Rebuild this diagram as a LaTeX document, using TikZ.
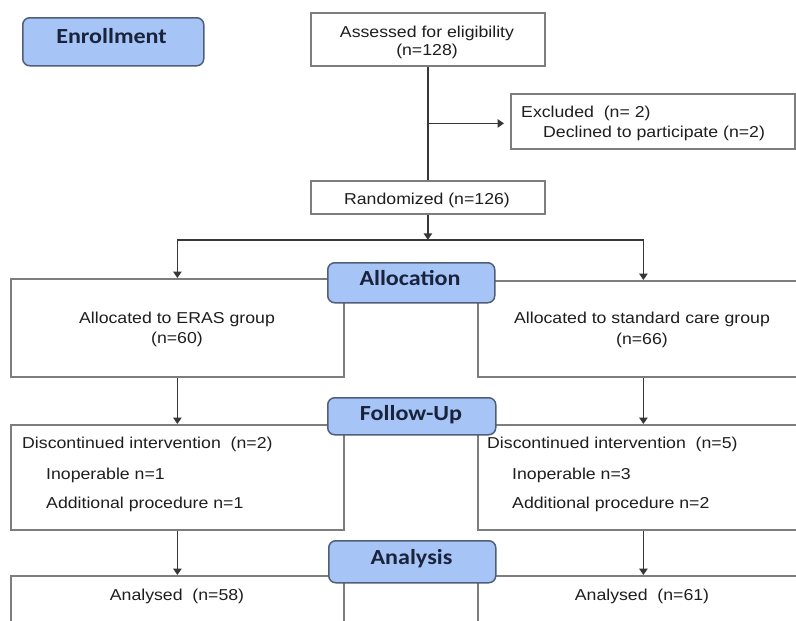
\documentclass[tikz,border=0pt]{standalone}
\usepackage{fontspec}
\setmainfont{Liberation Sans}[FakeStretch=1.12]
\newfontfamily\phasefont{Carlito}[FakeStretch=1.12]
\usetikzlibrary{arrows.meta,calc}
\definecolor{phasefill}{RGB}{166,196,245}
\definecolor{phaseline}{RGB}{80,95,120}
\definecolor{boxline}{RGB}{125,125,125}
\definecolor{connline}{RGB}{55,55,55}
\definecolor{bodytext}{RGB}{30,30,30}
\definecolor{phasetext}{RGB}{25,35,60}
\begin{document}
\begin{tikzpicture}[x=1pt,y=-1pt,
  box/.style={draw=boxline, line width=1.8pt, fill=white, rectangle, inner sep=0pt, anchor=north west},
  phase/.style={draw=phaseline, line width=1.5pt, fill=phasefill, rounded corners=7pt, rectangle, inner sep=0pt, anchor=north west},
  phasetxt/.style={font=\phasefont\bfseries\fontsize{21.5}{24}\selectfont, text=phasetext, anchor=base, inner sep=0pt},
  txt/.style={font=\fontsize{15.8}{18}\selectfont, text=bodytext, inner sep=0pt, anchor=base},
  ltxt/.style={txt, anchor=base west},
  conn/.style={draw=connline, line width=1.4pt},
  arr/.style={conn, -{Triangle[length=6.5pt,width=8.5pt]}},
]
\useasboundingbox (0,0) rectangle (796,621);
\clip (0,0) rectangle (796,621);
\fill[white] (0,0) rectangle (796,621);

% boxes
\node[box, minimum width=234, minimum height=53] (assess) at (310,12) {};
\node[box, minimum width=284, minimum height=55] (excl) at (510,93) {};
\node[box, minimum width=234, minimum height=33] (rand) at (310,180) {};
\node[box, minimum width=333, minimum height=98] (allocL) at (10,278) {};
\node[box, minimum width=331, minimum height=96] (allocR) at (477,280) {};
\node[box, minimum width=333, minimum height=105] (followL) at (10,424) {};
\node[box, minimum width=331, minimum height=105] (followR) at (477,424) {};
\node[box, minimum width=333, minimum height=70] (anaL) at (10,575) {};
\node[box, minimum width=331, minimum height=70] (anaR) at (477,575) {};

% texts
\node[txt] (t1) at (427,37) {Assessed for eligibility};
\node[txt] (t2) at (427,55) {(n=128)};
\node[ltxt] (t3) at (521,117) {Excluded\ \ (n= 2)};
\node[ltxt] (t4) at (543,137) {Declined to participate (n=2)};
\node[txt] (t5) at (427,204) {Randomized (n=126)};
\node[txt] (t6) at (177,323) {Allocated to ERAS group};
\node[txt] (t7) at (177,343) {(n=60)};
\node[txt] (t8) at (642,323) {Allocated to standard care group};
\node[txt] (t9) at (642,344) {(n=66)};
\node[ltxt] (t10) at (22,448) {Discontinued intervention\ \ (n=2)};
\node[ltxt] (t11) at (46,479) {Inoperable n=1};
\node[ltxt] (t12) at (46,508) {Additional procedure n=1};
\node[ltxt] (t13) at (487,448) {Discontinued intervention\ \ (n=5)};
\node[ltxt] (t14) at (512,479) {Inoperable n=3};
\node[ltxt] (t15) at (512,508) {Additional procedure n=2};
\node[txt] (t16) at (177,600) {Analysed\ \ (n=58)};
\node[txt] (t17) at (642,600) {Analysed\ \ (n=61)};

% connectors
\coordinate (br) at ($(assess.south)!0.5!(rand.north)$);
\coordinate (split) at ($(rand.south)+(0,25)$);
\draw[conn] (assess.south) -- (rand.north);
\draw[arr, shorten >=6pt] (br) -- (br -| excl.west);
\draw[arr] (rand.south) -- (split);
\draw[arr] (split) -| (allocL.north);
\draw[arr] (split) -| (allocR.north);
\draw[arr] (allocL.south) -- (followL.north);
\draw[arr] (allocR.south) -- (followR.north);
\draw[arr] (followL.south) -- (anaL.north);
\draw[arr] (followR.south) -- (anaR.north);

% phase labels
\node[phase, minimum width=181, minimum height=48] (enroll) at (22,17) {};
\node[phase, minimum width=167, minimum height=40] (alloc) at (327,262) {};
\node[phase, minimum width=168, minimum height=37] (follow) at (327,397) {};
\node[phase, minimum width=167, minimum height=42] (analysis) at (328,540) {};
\node[phasetxt] (p1) at (111.5,43) {Enrollment};
\node[phasetxt] (p2) at (410,285) {Allocation};
\node[phasetxt] (p3) at (411,420) {Follow-Up};
\node[phasetxt] (p4) at (411.5,564) {Analysis};
\end{tikzpicture}
\end{document}
